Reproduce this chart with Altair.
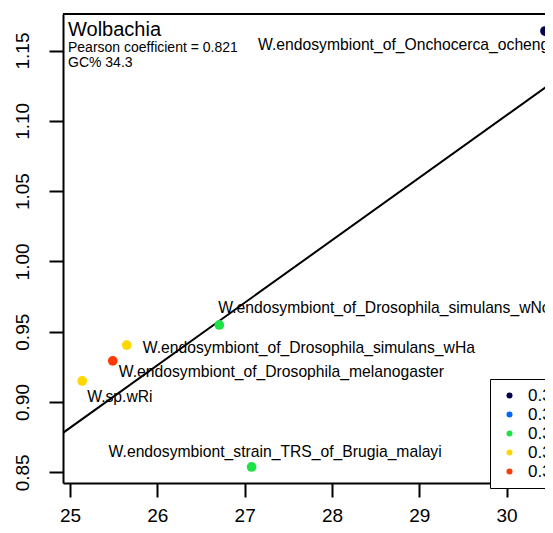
import altair as alt
import pandas as pd

# ---- data ----
names = [
    "W.endosymbiont_of_Onchocerca_ochengi",
    "W.endosymbiont_of_Drosophila_simulans_wNo",
    "W.endosymbiont_of_Drosophila_simulans_wHa",
    "W.endosymbiont_of_Drosophila_melanogaster",
    "W.sp.wRi",
    "W.endosymbiont_strain_TRS_of_Brugia_malayi",
]
gc_values = [30.44, 26.71, 25.65, 25.49, 25.14, 27.08]
ratio_values = [1.1639, 0.9548, 0.9405, 0.9293, 0.9150, 0.8538]
gc_bins = ["0.321", "0.336", "0.344", "0.352", "0.344", "0.336"]

legend_labels = ["0.321", "0.329", "0.336", "0.344", "0.352"]
legend_colors = ["#00004D", "#0066FF", "#1EE346", "#FFD700", "#FF3A00"]

x_ticks = [25, 26, 27, 28, 29, 30]
y_ticks = [0.85, 0.90, 0.95, 1.00, 1.05, 1.10, 1.15]

title_lines = ["Wolbachia"]
sub_lines = ["Pearson coefficient = 0.821", "GC% 34.3"]

# ---- layout / style ----
FONT = "Liberation Sans"
W, H = 482, 469
X_DOMAIN = [24.92, 30.44]
REG_EXTENT = [24.92, 30.6]
Y_DOMAIN = [0.8424, 1.1760]

# label offsets (pixels) relative to each point, left aligned
label_offsets = {
    names[0]: (-287, 14),
    names[1]: (-1, -17),
    names[2]: (16, 3),
    names[3]: (6, 11),
    names[4]: (5, 16),
    names[5]: (-143, -15),
}

df = pd.DataFrame({"name": names, "gc": gc_values, "ratio": ratio_values, "bin": gc_bins})

x_enc = alt.X(
    "gc:Q",
    scale=alt.Scale(domain=X_DOMAIN, nice=False, zero=False),
    axis=alt.Axis(
        values=x_ticks, format="d", title=None, grid=False,
        domainColor="black", domainWidth=2, tickColor="black", tickWidth=2,
        tickSize=14, labelFontSize=19, labelColor="black", labelPadding=24,
        labelBaseline="alphabetic",
        labelFont=FONT, labelFlush=False, labelOverlap=False,
    ),
)
y_enc = alt.Y(
    "ratio:Q",
    scale=alt.Scale(domain=Y_DOMAIN, nice=False, zero=False),
    axis=alt.Axis(
        values=y_ticks, format=".2f", title=None, grid=False,
        domainColor="black", domainWidth=2, tickColor="black", tickWidth=2,
        tickSize=14, labelFontSize=19, labelColor="black", labelPadding=17,
        labelFont=FONT, labelAngle=270, labelAlign="center", labelBaseline="bottom",
        labelFlush=False, labelOverlap=False,
    ),
)

base = alt.Chart(df)

reg = base.transform_regression("gc", "ratio", extent=REG_EXTENT).mark_line(
    color="black", strokeWidth=2, clip=True
).encode(x=x_enc, y=y_enc)

points = base.mark_circle(size=95, opacity=1).encode(
    x=x_enc,
    y=y_enc,
    color=alt.Color(
        "bin:N",
        scale=alt.Scale(domain=legend_labels, range=legend_colors),
        legend=alt.Legend(
            orient="none", legendX=427, legendY=365, title=None,
            strokeColor="black", fillColor="white", padding=8,
            labelFontSize=17, labelFont=FONT, labelColor="black",
            symbolSize=36, symbolType="circle", symbolStrokeWidth=0,
            symbolOffset=3, labelOffset=10, rowPadding=1,
        ),
    ),
)

label_layers = []
for nm in names:
    dx, dy = label_offsets[nm]
    label_layers.append(
        base.transform_filter(alt.datum.name == nm)
        .mark_text(align="left", baseline="middle", fontSize=15.7, font=FONT,
                   color="black", dx=dx, dy=dy)
        .encode(x=x_enc, y=y_enc, text="name:N")
    )

title_text = alt.Chart(pd.DataFrame({"t": title_lines})).mark_text(
    align="left", baseline="alphabetic", fontSize=20, font=FONT, color="black"
).encode(x=alt.value(5), y=alt.value(22), text="t:N")

sub1 = alt.Chart(pd.DataFrame({"t": sub_lines[:1]})).mark_text(
    align="left", baseline="alphabetic", fontSize=14, font=FONT, color="black"
).encode(x=alt.value(5), y=alt.value(38), text="t:N")

sub2 = alt.Chart(pd.DataFrame({"t": sub_lines[1:]})).mark_text(
    align="left", baseline="alphabetic", fontSize=14, font=FONT, color="black"
).encode(x=alt.value(5), y=alt.value(53), text="t:N")

top_frame = alt.Chart(pd.DataFrame({"a": [0]})).mark_rule(
    color="black", strokeWidth=2
).encode(x=alt.value(0), x2=alt.value(W), y=alt.value(0))

chart = alt.layer(
    reg, points, *label_layers, title_text, sub1, sub2, top_frame
).properties(
    width=W, height=H,
    autosize=alt.AutoSizeParams(type="none"),
    padding={"left": 55, "top": 6, "right": 0, "bottom": 42},
    background="white",
).configure_view(stroke=None)

chart.save("out.html", embed_options={"renderer": "svg", "actions": False})
